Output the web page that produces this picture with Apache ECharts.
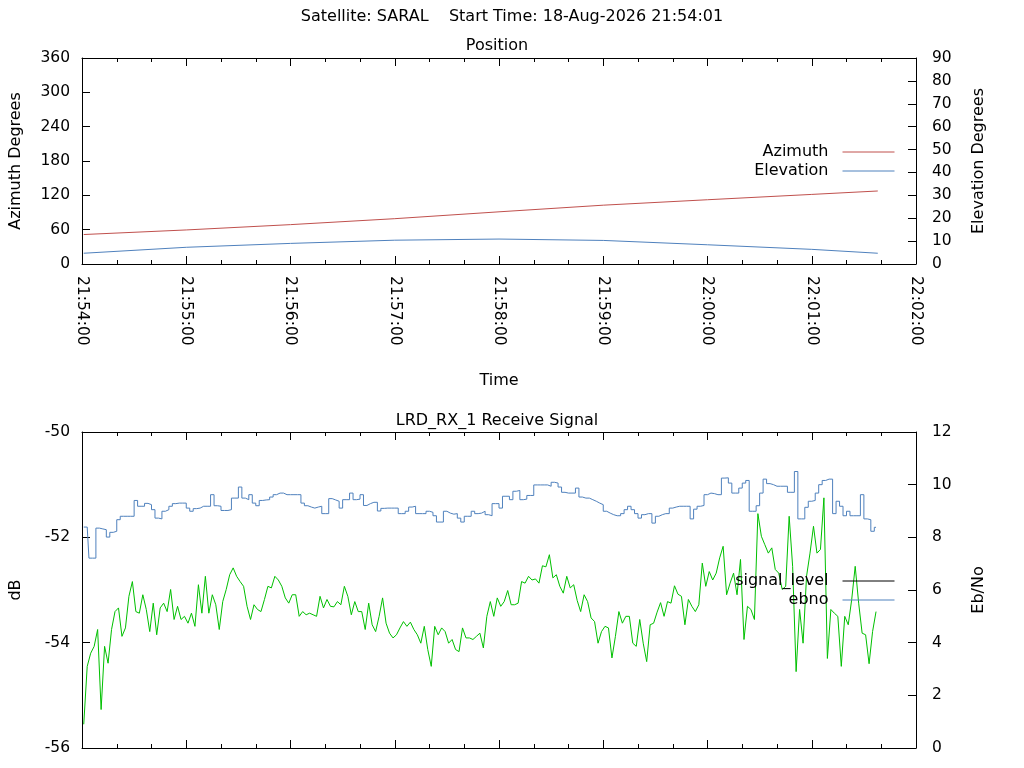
<!DOCTYPE html>
<html>
<head>
<meta charset="utf-8">
<title>SARAL pass</title>
<script src="https://cdn.jsdelivr.net/npm/echarts@6/dist/echarts.min.js"></script>
<style>
  html, body { margin: 0; padding: 0; background: #fff; }
  #chart { width: 1024px; height: 768px; }
</style>
</head>
<body>
<div id="chart"></div>
<script>
// time is seconds after 21:54:00
var posTimes  = [1, 60, 120, 180, 240, 300, 360, 420, 458];
var azimuth   = [51.5, 59.5, 68.8, 79.2, 91.2, 102.8, 112.3, 121.6, 127.6];
var elevation = [4.7, 7.3, 9.0, 10.4, 10.9, 10.3, 8.4, 6.4, 4.7];

// receive signal, one sample every 2 s starting at 21:54:01
var sigStart = 1, sigStep = 2;
var signalLevel = [
  -55.55, -54.45, -54.2, -54.07, -53.75, -55.27, -54.07, -54.39, -53.75, -53.41,
  -53.34, -53.88, -53.72, -53.12, -52.84, -53.41, -53.44, -53.09, -53.37, -53.79,
  -53.25, -53.85, -53.34, -53.25, -53.41, -52.99, -53.56, -53.31, -53.56, -53.5,
  -53.63, -53.44, -53.69, -52.9, -53.44, -52.74, -53.44, -53.09, -53.28, -53.75,
  -53.22, -52.99, -52.71, -52.58, -52.74, -52.84, -52.93, -53.31, -53.56, -53.28,
  -53.37, -53.41, -53.18, -52.93, -52.96, -52.74, -52.81,
  -52.93, -53.15, -53.25, -53.09, -53.09, -53.5, -53.41, -53.47, -53.44, -53.47,
  -53.5, -53.12, -53.34, -53.18, -53.31, -53.32, -53.22, -53.28, -52.93, -53.12,
  -53.47, -53.22, -53.41, -53.41, -53.75, -53.25, -53.66, -53.79, -53.5, -53.15,
  -53.63, -53.82, -53.91, -53.85, -53.72, -53.6, -53.69, -53.61, -53.75, -53.85,
  -54.01, -53.69, -54.13, -54.45, -53.69, -53.85, -53.72, -53.79, -54.01, -53.94,
  -54.13, -54.17, -53.72, -53.91, -53.91, -53.94, -53.88, -53.82,
  -54.1, -53.5, -53.22, -53.5, -53.15, -53.31, -53.22, -53.01, -53.28, -53.28,
  -53.25, -52.84, -52.87, -52.74, -52.81, -52.79, -52.87, -52.54, -52.56, -52.33,
  -52.77, -52.71, -52.93, -53.06, -52.74, -52.96, -52.9, -53.2, -53.41, -53.09,
  -53.22, -53.53, -53.6, -54.01, -53.79, -53.69, -53.72, -54.29, -53.88, -53.41,
  -53.63, -53.5, -53.5, -54.01, -54.07, -53.56, -54.01, -54.36, -53.66, -53.63,
  -53.42, -53.24, -53.5, -53.22, -53.25, -52.92, -53.08,
  -53.12, -53.66, -53.18, -53.31, -53.41, -53.28, -52.49, -52.93, -52.65, -52.81,
  -52.68, -52.39, -52.17, -53.09, -52.87, -52.68, -53.09, -52.42, -53.94, -53.31,
  -53.37, -53.56, -51.55, -51.98, -52.14, -52.3, -52.2, -52.61, -52.68, -52.99,
  -52.93, -51.6, -52.55, -54.55, -53.37, -54.01, -52.74, -52.3, -51.79, -52.3,
  -52.23, -51.25, -54.3, -53.37, -53.44, -53.5, -54.45, -53.5, -53.66, -53.18,
  -52.55, -53.25, -53.82, -53.85, -54.4, -53.79, -53.41
];
var ebno = [
  8.39, 8.39, 7.21, 7.21, 8.35, 8.32, 8.29, 8.01, 8.19, 8.23,
  8.67, 8.8, 8.8, 8.8, 8.8, 9.4, 9.18, 9.18, 9.29, 9.24,
  9.05, 8.73, 8.7, 8.99, 9.05, 9.18, 9.28, 9.3, 9.3, 9.3,
  9.11, 8.99, 9.09, 9.11, 9.18, 9.18, 9.18, 9.62, 9.2, 9.18,
  9.02, 9.02, 9.05, 9.49, 9.49, 9.91, 9.49, 9.43, 9.62, 9.3,
  9.2, 9.4, 9.42, 9.43, 9.53, 9.62, 9.68,
  9.68, 9.62, 9.62, 9.62, 9.62, 9.62, 9.3, 9.2, 9.15, 9.11,
  9.15, 9.18, 8.9, 8.9, 9.47, 9.42, 9.37, 9.11, 9.43, 9.43,
  9.68, 9.43, 9.45, 9.62, 9.21, 9.28, 9.33, 9.33, 9.0, 9.1,
  9.11, 9.11, 9.11, 9.11, 8.9, 8.9, 8.99, 9.15, 9.18, 8.9,
  8.9, 8.9, 8.99, 8.95, 8.82, 8.58, 8.58, 8.99, 8.92, 8.88,
  8.9, 8.73, 8.58, 8.8, 8.8, 8.99, 8.9, 8.92,
  8.99, 8.86, 8.82, 9.28, 9.28, 9.11, 9.56, 9.56, 9.43, 9.75,
  9.78, 9.43, 9.45, 9.59, 9.59, 9.99, 9.99, 9.99, 9.99, 9.94,
  10.09, 10.06, 9.91, 9.71, 9.68, 9.68, 9.68, 9.87, 9.53, 9.49,
  9.49, 9.43, 9.37, 9.3, 9.24, 8.99, 8.92, 8.86, 8.82, 8.82,
  8.9, 9.05, 9.18, 9.05, 8.9, 8.73, 8.86, 8.9, 8.9, 8.54,
  8.8, 8.86, 8.9, 8.9, 9.11, 9.15, 9.18,
  9.18, 9.18, 9.18, 8.7, 9.07, 9.18, 9.21, 9.62, 9.68, 9.66,
  9.62, 9.62, 10.25, 10.26, 10.06, 9.68, 9.68, 9.87, 10.06, 10.16,
  8.99, 8.99, 9.2, 9.68, 10.21, 10.04, 10.0, 9.94, 9.94, 9.94,
  9.94, 9.71, 9.71, 10.5, 8.7, 8.7, 9.14, 9.37, 9.4, 9.68,
  10.0, 10.16, 10.21, 10.21, 8.9, 9.37, 9.18, 8.82, 8.99, 8.82,
  8.82, 8.82, 9.62, 8.7, 8.67, 8.23, 8.38
];

var FONT = 'DejaVu Sans';
var FS = 15.5;   // tick labels
var FT = 16;     // titles, names, legend
var INK = '#000';
var RED = '#c0504d', BLUE = '#4f81bd', GREEN = '#00c000';

function hms(sec) {
  var s = 21 * 3600 + 54 * 60 + Math.round(sec);
  var h = Math.floor(s / 3600) % 24, m = Math.floor(s / 60) % 60, ss = s % 60;
  function p(n) { return (n < 10 ? '0' : '') + n; }
  return p(h) + ':' + p(m) + ':' + p(ss);
}

function pairs(times, vals) {
  return vals.map(function (v, i) { return [times[i], v]; });
}
function stepPairs(vals) {
  return vals.map(function (v, i) { return [sigStart + i * sigStep, v]; });
}

var txt = { color: INK, fontFamily: FONT, fontSize: FT, fontWeight: 'normal' };

function timeAxis(grid, position, labels) {
  return {
    type: 'value', gridIndex: grid, position: position,
    min: 0, max: 480, interval: 60,
    axisLine: { show: true, onZero: false, lineStyle: { color: INK, width: 1 } },
    axisTick: { show: true, inside: true, length: 8, lineStyle: { color: INK } },
    minorTick: { show: true, splitNumber: 3, length: 4, lineStyle: { color: INK } },
    splitLine: { show: false },
    minorSplitLine: { show: false },
    axisLabel: {
      show: labels, rotate: -90, margin: 12, formatter: hms,
      showMinLabel: true, showMaxLabel: true,
      color: INK, fontFamily: FONT, fontSize: FS
    }
  };
}

function valueAxis(grid, position, min, max, interval, name, margin, gap) {
  return {
    type: 'value', gridIndex: grid, position: position,
    min: min, max: max, interval: interval,
    name: name, nameLocation: 'middle', nameGap: gap, nameRotate: 90,
    nameTextStyle: txt,
    axisLine: { show: true, onZero: false, lineStyle: { color: INK, width: 1 } },
    axisTick: { show: true, inside: true, length: 8, lineStyle: { color: INK } },
    splitLine: { show: false },
    axisLabel: { margin: margin, color: INK, fontFamily: FONT, fontSize: FS }
  };
}

var xTop = timeAxis(0, 'bottom', true);
xTop.name = 'Time';
xTop.nameLocation = 'middle';
xTop.nameGap = 109;
xTop.nameTextStyle = txt;

function legendBox(top, data) {
  return {
    orient: 'vertical', align: 'right', right: 129, top: top,
    padding: 0, itemGap: 3, itemWidth: 52, itemHeight: 19,
    itemStyle: { opacity: 0 },
    lineStyle: { width: 1 },
    textStyle: { color: INK, fontFamily: FONT, fontSize: FT, padding: [0, 9, 0, 0] },
    selectedMode: false,
    data: data
  };
}

var chart = echarts.init(document.getElementById('chart'));
chart.setOption({
  animation: false,
  backgroundColor: '#fff',
  title: [
    { text: 'Satellite: SARAL    Start Time: 18-Aug-2026 21:54:01', left: 512, textAlign: 'center', top: 9, padding: 0, textStyle: txt },
    { text: 'Position', left: 497, textAlign: 'center', top: 38, padding: 0, textStyle: txt },
    { text: 'LRD_RX_1 Receive Signal', left: 497, textAlign: 'center', top: 413, padding: 0, textStyle: txt }
  ],
  legend: [
    legendBox(144, ['Azimuth', 'Elevation']),
    legendBox(573, [{ name: 'signal_level', lineStyle: { color: INK } }, 'ebno'])
  ],
  grid: [
    { left: 79, top: 58, width: 837, height: 206 },
    { left: 79, top: 432, width: 837, height: 316 }
  ],
  xAxis: [
    xTop,
    timeAxis(0, 'top', false),
    timeAxis(1, 'bottom', false),
    timeAxis(1, 'top', false)
  ],
  yAxis: [
    valueAxis(0, 'left', 0, 360, 60, 'Azimuth Degrees', 12, 58),
    valueAxis(0, 'right', 0, 90, 10, 'Elevation Degrees', 16, 55),
    valueAxis(1, 'left', -56, -50, 2, 'dB', 12, 58),
    valueAxis(1, 'right', 0, 12, 2, 'Eb/No', 16, 55)
  ],
  series: [
    { name: 'Azimuth', type: 'line', xAxisIndex: 0, yAxisIndex: 0, data: pairs(posTimes, azimuth),
      symbol: 'none', color: RED, lineStyle: { color: RED, width: 1 } },
    { name: 'Elevation', type: 'line', xAxisIndex: 0, yAxisIndex: 1, data: pairs(posTimes, elevation),
      symbol: 'none', color: BLUE, lineStyle: { color: BLUE, width: 1 } },
    { name: 'signal_level', type: 'line', xAxisIndex: 2, yAxisIndex: 2, data: stepPairs(signalLevel),
      symbol: 'none', color: GREEN, lineStyle: { color: GREEN, width: 1 } },
    { name: 'ebno', type: 'line', xAxisIndex: 2, yAxisIndex: 3, data: stepPairs(ebno), step: 'middle',
      symbol: 'none', color: BLUE, lineStyle: { color: BLUE, width: 1 } }
  ]
});
</script>
</body>
</html>
